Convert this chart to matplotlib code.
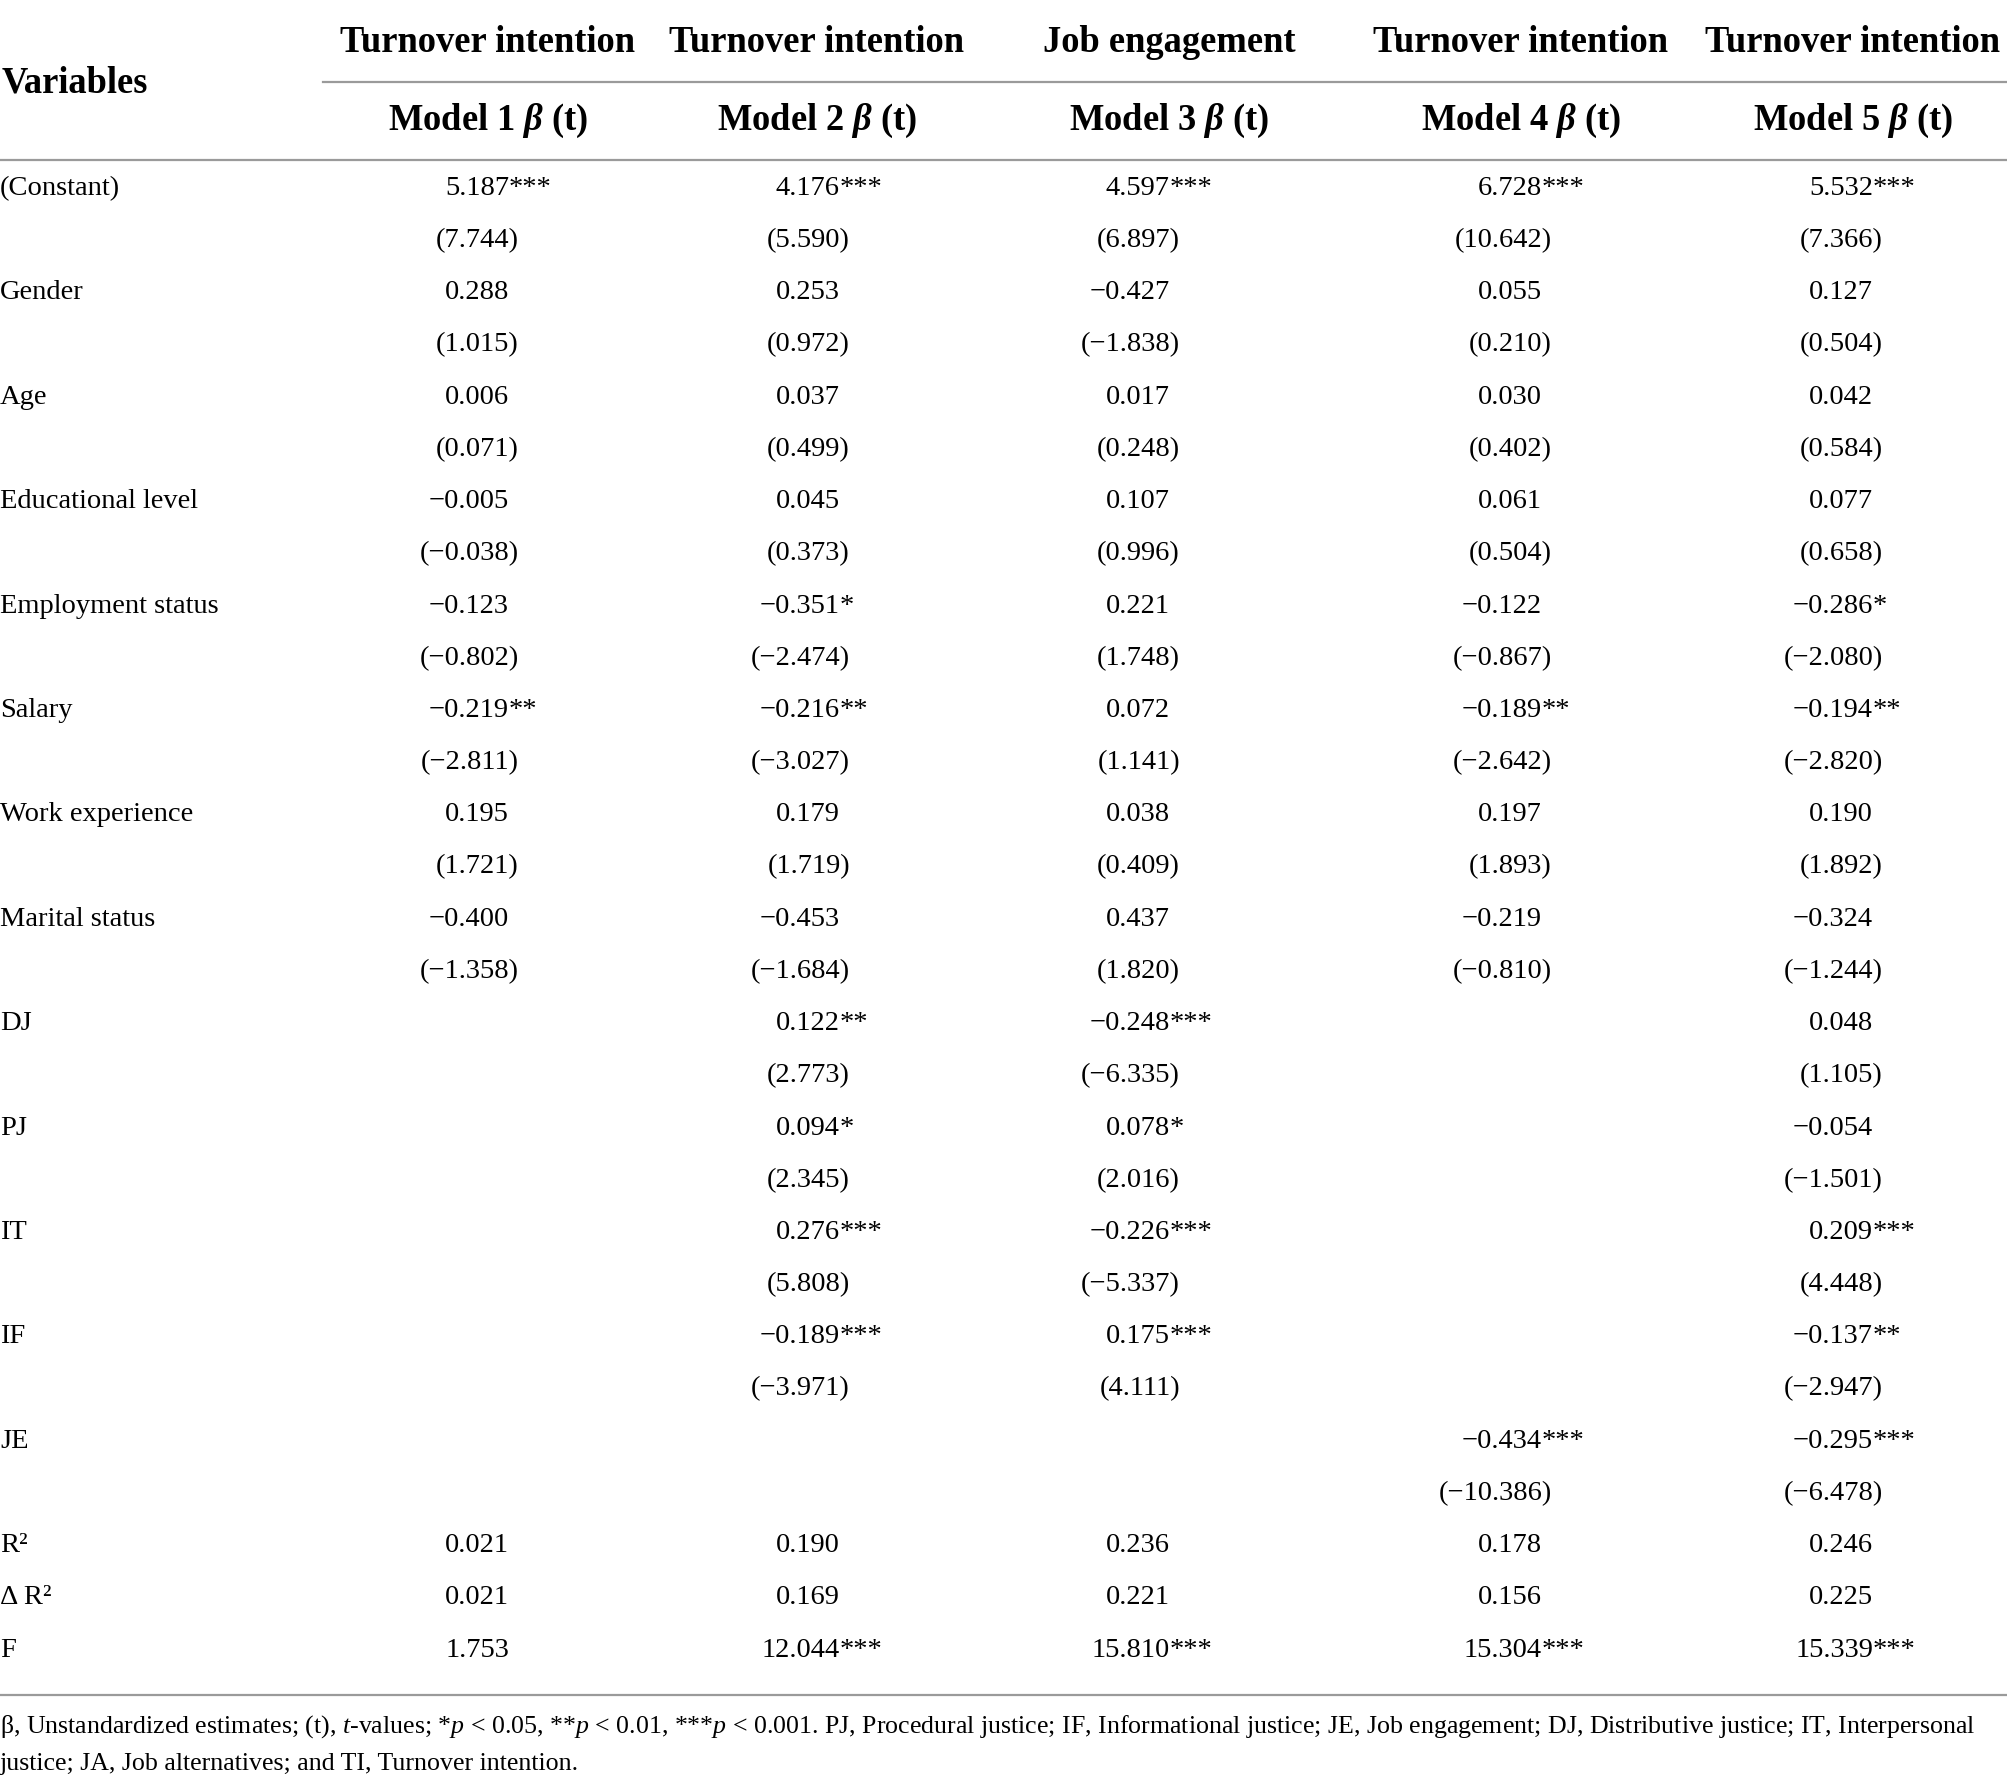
import matplotlib
matplotlib.use("Agg")
import matplotlib.pyplot as plt

# --- table content -------------------------------------------------------
variables = ["(Constant)", "Gender", "Age", "Educational level", "Employment status",
             "Salary", "Work experience", "Marital status", "DJ", "PJ", "IT", "IF", "JE"]
outcomes = ["Turnover intention", "Turnover intention", "Job engagement",
            "Turnover intention", "Turnover intention"]
models = ["Model 1", "Model 2", "Model 3", "Model 4", "Model 5"]

# coefficients (with significance stars) and t-values, "" = not in model
m1_beta = ["5.187***", "0.288", "0.006", "−0.005", "−0.123", "−0.219**", "0.195", "−0.400",
           "", "", "", "", ""]
m1_t = ["7.744", "1.015", "0.071", "−0.038", "−0.802", "−2.811", "1.721", "−1.358",
        "", "", "", "", ""]
m2_beta = ["4.176***", "0.253", "0.037", "0.045", "−0.351*", "−0.216**", "0.179", "−0.453",
           "0.122**", "0.094*", "0.276***", "−0.189***", ""]
m2_t = ["5.590", "0.972", "0.499", "0.373", "−2.474", "−3.027", "1.719", "−1.684",
        "2.773", "2.345", "5.808", "−3.971", ""]
m3_beta = ["4.597***", "−0.427", "0.017", "0.107", "0.221", "0.072", "0.038", "0.437",
           "−0.248***", "0.078*", "−0.226***", "0.175***", ""]
m3_t = ["6.897", "−1.838", "0.248", "0.996", "1.748", "1.141", "0.409", "1.820",
        "−6.335", "2.016", "−5.337", "4.111", ""]
m4_beta = ["6.728***", "0.055", "0.030", "0.061", "−0.122", "−0.189**", "0.197", "−0.219",
           "", "", "", "", "−0.434***"]
m4_t = ["10.642", "0.210", "0.402", "0.504", "−0.867", "−2.642", "1.893", "−0.810",
        "", "", "", "", "−10.386"]
m5_beta = ["5.532***", "0.127", "0.042", "0.077", "−0.286*", "−0.194**", "0.190", "−0.324",
           "0.048", "−0.054", "0.209***", "−0.137**", "−0.295***"]
m5_t = ["7.366", "0.504", "0.584", "0.658", "−2.080", "−2.820", "1.892", "−1.244",
        "1.105", "−1.501", "4.448", "−2.947", "−6.478"]

stat_labels = ["R²", "Δ R²", "F"]
r2 = ["0.021", "0.190", "0.236", "0.178", "0.246"]
delta_r2 = ["0.021", "0.169", "0.221", "0.156", "0.225"]
f_values = ["1.753", "12.044***", "15.810***", "15.304***", "15.339***"]

footnote = [
    r"β, Unstandardized estimates; (t), $\mathit{t}$-values; *$\mathit{p}$ < 0.05, **$\mathit{p}$ < 0.01, "
    r"***$\mathit{p}$ < 0.001. PJ, Procedural justice; IF, Informational justice; JE, Job engagement; "
    r"DJ, Distributive justice; IT, Interpersonal",
    "justice; JA, Job alternatives; and TI, Turnover intention.",
]

betas = [m1_beta, m2_beta, m3_beta, m4_beta, m5_beta]
tvals = [m1_t, m2_t, m3_t, m4_t, m5_t]

# --- layout (pixels) -----------------------------------------------------
W, H = 2008, 1780
FONT = "Liberation Serif"
plt.rcParams["font.family"] = [FONT, "DejaVu Serif"]
plt.rcParams["mathtext.fontset"] = "custom"
plt.rcParams["mathtext.rm"] = FONT
plt.rcParams["mathtext.it"] = FONT + ":italic"
plt.rcParams["mathtext.bf"] = FONT + ":bold"
plt.rcParams["mathtext.bfit"] = FONT + ":italic:bold"

col_num_x = [509, 840, 1170, 1542, 1873]     # right edge of the numbers
col_head_x = [488, 817, 1169, 1521, 1853]    # header centres
first_row_y = 188.5
row_step = 52.2
body_size = 20.5
head_size = 26.3
line_col = "#9a9a9a"

fig = plt.figure(figsize=(W / 100, H / 100), dpi=100)
ax = fig.add_axes([0, 0, 1, 1])
ax.set_xlim(0, W)
ax.set_ylim(H, 0)
ax.axis("off")

# header
ax.text(2, 83, "Variables", fontsize=head_size, fontweight="bold", va="center", ha="left")
for x, name, mod in zip(col_head_x, outcomes, models):
    ax.text(x, 43, name, fontsize=head_size, fontweight="bold", va="center", ha="center")
    ax.text(x, 121, mod + r" $\mathbfit{\beta}$ (t)", fontsize=head_size,
            fontweight="bold", va="center", ha="center")

ax.plot([323, W], [82, 82], color=line_col, lw=1.6)
ax.plot([0, W], [160, 160], color=line_col, lw=1.6)
ax.plot([0, W], [1695, 1695], color=line_col, lw=1.6)


def put_beta(x, y, s):
    if not s:
        return
    num = s.rstrip("*")
    stars = s[len(num):]
    ax.text(x, y, num, fontsize=body_size, va="center", ha="right")
    if stars:
        ax.text(x, y, stars, fontsize=body_size, va="center", ha="left")


def put_t(x, y, s):
    if not s:
        return
    ax.text(x + 10, y, "(" + s + ")", fontsize=body_size, va="center", ha="right")


row = 0
for i, var in enumerate(variables):
    y_b = first_row_y + row * row_step
    y_t = first_row_y + (row + 1) * row_step
    ax.text(0, y_b, var, fontsize=body_size, va="center", ha="left")
    for c in range(5):
        put_beta(col_num_x[c], y_b, betas[c][i])
        put_t(col_num_x[c], y_t, tvals[c][i])
    row += 2

for lab, vals in zip(stat_labels, [r2, delta_r2, f_values]):
    y = first_row_y + row * row_step
    ax.text(0, y, lab, fontsize=body_size, va="center", ha="left")
    for c in range(5):
        put_beta(col_num_x[c], y, vals[c])
    row += 1

ax.text(0, 1727, footnote[0], fontsize=18.6, va="center", ha="left")
ax.text(0, 1764, footnote[1], fontsize=18.6, va="center", ha="left")

fig.savefig("out.png", dpi=100)
